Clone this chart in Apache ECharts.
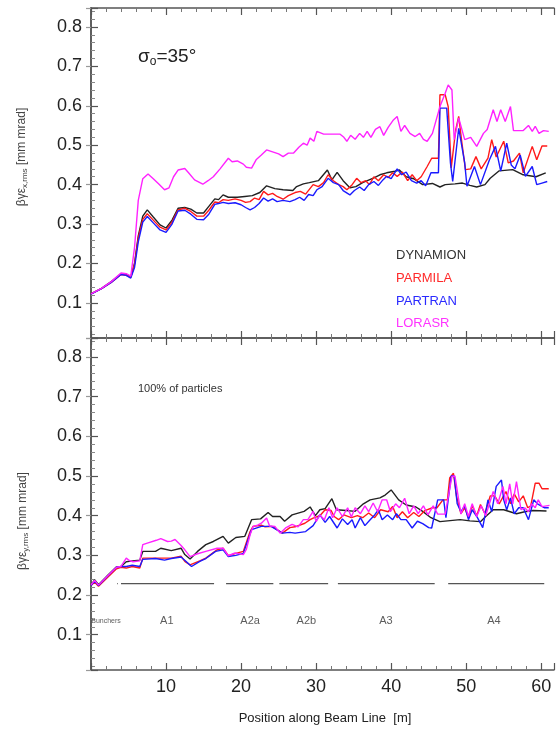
<!DOCTYPE html>
<html><head><meta charset="utf-8">
<script src="https://cdn.jsdelivr.net/npm/echarts@6/dist/echarts.min.js"></script>
<style>html,body{margin:0;padding:0;background:#fff}#c{width:556px;height:731px}</style>
</head><body><div id="c"></div>
<script>
// ---- data (x in m, value in mm mrad) ----
const xTicks = [10,20,30,40,50,60];
const yTicks = [0.1,0.2,0.3,0.4,0.5,0.6,0.7,0.8];

const dynX = [[0,0.123],[1.4,0.137],[2.7,0.154],[4.0,0.174],[4.7,0.172],[5.3,0.166],[5.8,0.2],[6.3,0.27],[6.9,0.32],[7.5,0.336],[8.3,0.318],[9.2,0.298],[10,0.29],[10.8,0.31],[11.6,0.34],[12.5,0.342],[13.3,0.338],[14.1,0.328],[15,0.328],[15.7,0.345],[16.5,0.364],[17,0.362],[17.6,0.374],[18.3,0.368],[19.5,0.368],[20.5,0.37],[21.5,0.372],[22.5,0.38],[23.4,0.397],[24.5,0.39],[25.6,0.387],[26.9,0.385],[27.4,0.395],[28.3,0.402],[29.1,0.405],[30.3,0.41],[31.5,0.437],[32.1,0.412],[32.8,0.431],[33.6,0.41],[34.5,0.392],[35.3,0.395],[36.2,0.405],[37.7,0.417],[38.5,0.425],[39.4,0.43],[40.5,0.434],[41.1,0.437],[42,0.42],[43,0.415],[44.2,0.4],[45.5,0.403],[46.5,0.394],[47.2,0.4],[48.5,0.402],[49.5,0.404],[50.5,0.398],[51.4,0.394],[52.5,0.4],[53.2,0.416],[54.4,0.435],[56.2,0.438],[57.6,0.425],[59.3,0.42],[60.6,0.43]];
const parX = [[0,0.123],[1.4,0.136],[2.7,0.152],[4.0,0.172],[4.7,0.17],[5.3,0.165],[5.8,0.198],[6.3,0.265],[6.9,0.312],[7.5,0.326],[8.3,0.31],[9.2,0.292],[10,0.285],[10.8,0.305],[11.6,0.336],[12.5,0.34],[13.3,0.332],[14.1,0.32],[15,0.32],[15.7,0.335],[16.5,0.356],[17,0.354],[17.6,0.362],[18.3,0.36],[19.2,0.364],[20,0.36],[20.6,0.355],[21.2,0.357],[21.8,0.366],[22.4,0.362],[23,0.383],[23.6,0.374],[24.2,0.378],[24.8,0.37],[25.6,0.363],[26.3,0.372],[27.2,0.38],[27.9,0.383],[28.6,0.376],[29.6,0.4],[30.3,0.395],[31,0.405],[31.6,0.425],[32.3,0.41],[33,0.4],[33.6,0.395],[34.1,0.387],[34.8,0.4],[35.4,0.416],[36,0.405],[36.6,0.41],[37.1,0.4],[37.7,0.42],[38.3,0.41],[39,0.425],[39.6,0.418],[40.2,0.43],[40.8,0.421],[41.5,0.432],[42.2,0.41],[42.8,0.425],[43.4,0.41],[44,0.42],[44.8,0.446],[45.4,0.467],[46.3,0.467],[46.5,0.628],[47.2,0.628],[47.6,0.598],[48,0.442],[48.6,0.539],[49,0.573],[49.4,0.51],[49.9,0.438],[50.6,0.44],[51.3,0.471],[52,0.44],[52.9,0.467],[53.4,0.514],[54,0.47],[55,0.51],[55.6,0.455],[56.3,0.46],[57.1,0.48],[57.6,0.43],[58.8,0.497],[59.4,0.463],[60.1,0.498],[60.8,0.498]];
const ptrX = [[0,0.122],[1.4,0.136],[2.7,0.152],[4.0,0.172],[4.7,0.17],[5.3,0.163],[5.8,0.19],[6.3,0.255],[6.9,0.305],[7.5,0.319],[8.3,0.303],[9.2,0.285],[10,0.279],[10.8,0.3],[11.6,0.333],[12.5,0.335],[13.3,0.325],[14.1,0.312],[15,0.311],[15.7,0.325],[16.5,0.35],[17,0.352],[17.6,0.355],[18.3,0.352],[19.2,0.354],[20,0.349],[20.6,0.342],[21.2,0.336],[21.8,0.342],[22.4,0.352],[23,0.366],[23.6,0.358],[24.2,0.364],[24.8,0.357],[25.6,0.36],[26.5,0.357],[27.2,0.362],[27.8,0.368],[28.4,0.36],[29,0.375],[29.6,0.372],[30.1,0.387],[30.8,0.395],[31.6,0.416],[32.3,0.405],[33,0.4],[33.6,0.385],[34.5,0.374],[35.1,0.385],[35.8,0.394],[36.4,0.385],[37,0.4],[37.7,0.408],[38.3,0.398],[38.9,0.412],[39.4,0.421],[40,0.415],[40.8,0.44],[41.4,0.425],[42,0.432],[42.7,0.41],[43.4,0.404],[44,0.41],[44.6,0.397],[45.3,0.43],[46.3,0.43],[46.5,0.594],[47.4,0.594],[47.9,0.455],[48.2,0.408],[49,0.543],[49.8,0.455],[50.1,0.396],[51.1,0.446],[51.9,0.4],[53.1,0.463],[53.9,0.497],[54.6,0.434],[55.4,0.505],[56,0.45],[56.5,0.44],[57.2,0.475],[57.9,0.421],[58.8,0.446],[59.4,0.4],[60.1,0.404],[60.8,0.408]];
const lorX = [[0,0.123],[1.4,0.137],[2.7,0.154],[4.0,0.176],[4.7,0.174],[5.3,0.168],[5.8,0.24],[6.3,0.36],[6.9,0.415],[7.6,0.427],[8.3,0.415],[9,0.402],[9.8,0.387],[10.4,0.392],[11,0.42],[11.6,0.437],[12.5,0.441],[13,0.43],[13.8,0.412],[14.9,0.401],[15.6,0.41],[16.3,0.42],[17.2,0.44],[18.3,0.467],[18.8,0.458],[19.5,0.46],[20.3,0.452],[20.7,0.444],[21.4,0.442],[22,0.463],[22.7,0.475],[23.4,0.488],[24.2,0.483],[25,0.478],[25.6,0.471],[26.3,0.48],[27,0.48],[27.7,0.495],[28.3,0.505],[28.8,0.5],[29.2,0.518],[29.7,0.51],[30.1,0.535],[31,0.528],[33.2,0.528],[33.7,0.52],[34.1,0.51],[34.6,0.525],[35.2,0.515],[35.8,0.53],[36.3,0.52],[36.8,0.535],[37.3,0.52],[37.9,0.54],[38.5,0.547],[39,0.525],[39.6,0.545],[40.3,0.564],[40.8,0.573],[41.3,0.535],[41.8,0.55],[42.5,0.53],[43.2,0.522],[43.8,0.53],[44.3,0.515],[44.8,0.51],[45.5,0.53],[46.5,0.598],[47.2,0.632],[47.6,0.653],[48.1,0.64],[48.4,0.514],[49,0.569],[49.8,0.514],[50.6,0.52],[51.4,0.497],[52.3,0.53],[52.8,0.54],[53.6,0.59],[54.1,0.56],[54.6,0.59],[55.2,0.56],[55.9,0.598],[56.3,0.537],[57.6,0.537],[58.3,0.55],[58.8,0.535],[59.2,0.548],[59.7,0.53],[60.3,0.537],[61,0.535]];

const dynY = [[0,0.226],[0.5,0.238],[1.0,0.226],[2.3,0.251],[3.4,0.271],[4.0,0.272],[4.7,0.284],[5.5,0.286],[6.5,0.288],[6.9,0.31],[8.6,0.31],[9.3,0.318],[10.7,0.312],[12,0.318],[12.5,0.302],[13.2,0.291],[14.2,0.31],[15.3,0.327],[16.3,0.335],[17.6,0.348],[18.3,0.331],[19.3,0.345],[20.5,0.348],[21.4,0.39],[22.6,0.392],[23.6,0.408],[24.2,0.398],[25.2,0.398],[25.8,0.386],[26.8,0.402],[28.4,0.411],[29.2,0.422],[29.9,0.4],[30.5,0.415],[31.2,0.418],[32.1,0.443],[32.7,0.415],[34,0.413],[35.2,0.411],[36.3,0.43],[37.2,0.44],[38.5,0.445],[39.2,0.452],[40,0.465],[41,0.44],[42,0.427],[43.3,0.422],[44.2,0.411],[45.3,0.395],[46.5,0.385],[49.2,0.39],[50.5,0.387],[51.9,0.385],[52.6,0.398],[53.6,0.415],[55,0.415],[56.7,0.405],[57.8,0.41],[58.9,0.413],[60.7,0.412]];
const parY = [[0,0.224],[0.5,0.232],[1.0,0.222],[2.3,0.246],[3.4,0.266],[4.0,0.27],[4.7,0.268],[5.5,0.272],[6.5,0.268],[6.9,0.293],[8.6,0.293],[10.7,0.293],[12,0.298],[12.5,0.285],[13.2,0.276],[14.5,0.286],[15.3,0.293],[16.8,0.314],[17.6,0.318],[18.3,0.299],[19.3,0.305],[20.3,0.31],[21.2,0.36],[21.6,0.373],[22.7,0.376],[23.2,0.372],[24.1,0.373],[24.8,0.365],[25.5,0.356],[26.5,0.37],[27.2,0.372],[28.5,0.381],[29.2,0.39],[29.6,0.394],[30.5,0.4],[31.2,0.415],[32,0.413],[32.4,0.398],[33,0.39],[33.7,0.402],[34.7,0.395],[35.5,0.4],[36.2,0.395],[37,0.407],[37.8,0.395],[38.6,0.415],[39.6,0.41],[40.2,0.423],[40.8,0.395],[41.5,0.41],[42.2,0.395],[43,0.408],[43.7,0.398],[44.5,0.413],[45.5,0.42],[46.1,0.42],[46.9,0.44],[47.5,0.44],[47.8,0.495],[48.3,0.507],[48.7,0.45],[49.3,0.405],[49.8,0.42],[50.3,0.395],[50.8,0.425],[51.4,0.4],[51.9,0.428],[52.5,0.405],[53.2,0.45],[53.8,0.45],[54.4,0.43],[55.3,0.461],[55.9,0.43],[56.4,0.455],[57,0.435],[57.6,0.45],[58.2,0.42],[58.6,0.425],[59.2,0.482],[59.7,0.482],[60.1,0.468],[61,0.468]];
const ptrY = [[0,0.224],[0.5,0.235],[1.0,0.224],[2.3,0.249],[3.4,0.27],[4.0,0.272],[4.7,0.272],[5.5,0.275],[6.5,0.272],[6.9,0.29],[8.6,0.292],[9.8,0.288],[10.7,0.292],[12,0.296],[12.6,0.286],[13.4,0.272],[14.5,0.285],[15.3,0.292],[16.6,0.31],[17.6,0.314],[18.3,0.297],[19.3,0.3],[20.3,0.305],[21.4,0.365],[22.7,0.373],[24,0.373],[25.5,0.356],[26.5,0.358],[27.2,0.356],[28.6,0.36],[29.6,0.375],[30.5,0.402],[31.2,0.383],[31.8,0.398],[32.8,0.369],[33.5,0.392],[34.2,0.378],[34.8,0.39],[35.2,0.369],[35.9,0.395],[36.5,0.375],[37.2,0.39],[37.8,0.402],[38.3,0.415],[38.8,0.39],[39.5,0.402],[40.2,0.39],[40.7,0.405],[41.3,0.39],[42,0.39],[42.8,0.369],[43.5,0.386],[44.2,0.38],[45,0.37],[45.4,0.369],[46.2,0.44],[47,0.44],[47.3,0.395],[48,0.5],[48.4,0.5],[48.8,0.43],[49.3,0.41],[49.8,0.425],[50.3,0.39],[50.8,0.415],[51.5,0.395],[52.2,0.37],[52.9,0.44],[53.4,0.41],[54,0.474],[54.7,0.49],[55,0.44],[55.4,0.415],[55.9,0.445],[56.4,0.405],[57,0.42],[57.6,0.42],[58.3,0.39],[59,0.44],[59.5,0.43],[60.4,0.42],[61,0.42]];
const lorY = [[0,0.226],[0.5,0.237],[1.0,0.225],[2.3,0.25],[3.4,0.27],[4.0,0.272],[4.7,0.293],[5.1,0.287],[5.6,0.284],[6.5,0.286],[6.9,0.327],[7.5,0.331],[8.7,0.338],[9.3,0.342],[10.2,0.335],[10.7,0.336],[11.2,0.34],[12,0.325],[12.5,0.314],[13.2,0.297],[14.2,0.304],[15.3,0.31],[16.8,0.318],[17.6,0.318],[18.3,0.299],[19.2,0.306],[20.3,0.302],[20.7,0.315],[21.2,0.352],[21.6,0.373],[22.2,0.376],[22.7,0.381],[23.4,0.394],[23.8,0.374],[24.5,0.373],[25.2,0.356],[26,0.37],[26.8,0.378],[27.6,0.372],[28.3,0.39],[28.9,0.39],[29.6,0.411],[30,0.385],[30.5,0.402],[31.1,0.39],[31.7,0.42],[32.2,0.395],[32.8,0.42],[33.5,0.398],[34.2,0.42],[34.7,0.397],[35.2,0.42],[35.9,0.405],[36.5,0.425],[37,0.41],[37.6,0.432],[38.2,0.41],[38.8,0.44],[39.4,0.44],[39.9,0.41],[40.6,0.43],[41.1,0.42],[41.8,0.444],[42.4,0.405],[43,0.425],[43.6,0.405],[44.3,0.425],[44.9,0.402],[45.6,0.425],[46.2,0.404],[47.2,0.404],[48.1,0.499],[48.5,0.5],[49.3,0.404],[49.8,0.43],[50.3,0.398],[50.8,0.43],[51.4,0.398],[52,0.425],[52.6,0.4],[53.6,0.461],[54.2,0.43],[54.9,0.474],[55.3,0.43],[55.8,0.48],[56.2,0.43],[56.7,0.486],[57.3,0.415],[57.8,0.42],[58.3,0.41],[58.7,0.43],[59.2,0.42],[59.6,0.44],[60.1,0.423],[61.1,0.426]];

const sectionNames = ['Bunchers','A1','A2a','A2b','A3','A4'];
const sectionX = [2.0,10.1,21.2,28.7,39.3,53.7];
const sectionLabelY = 0.135;
const sectionBarY = 0.229;
const sectionStart = [3.5,4.0,18.0,25.1,32.9,47.6];
const sectionEnd   = [3.6,16.4,24.3,31.6,45.8,60.4];

const names = ['DYNAMION','PARMILA','PARTRAN','LORASR'];
const colors = ['#222222','#ff1a1a','#1a1aff','#ff22ff'];

// ---- chart ----
const chart = echarts.init(document.getElementById('c'), null, {renderer:'canvas'});
const FONT = 'Liberation Sans, Arial, sans-serif';
const XMIN = 0, XMAX = 61.7, YMIN = 0.011, YMAX = 0.848;
const axisLine = {show:true, lineStyle:{color:'#555', width:1.5}};

function xAx(grid, pos, labels){
  return {type:'value', gridIndex:grid, position:pos, min:XMIN, max:XMAX, interval:10,
    axisLine, splitLine:{show:false},
    axisTick:{show:true, inside:true, length:7, lineStyle:{color:'#555', width:1.2}},
    minorTick:{show:true, splitNumber:5, length:4, lineStyle:{color:'#777', width:1}},
    axisLabel:{show:labels, showMinLabel:false, showMaxLabel:false, fontSize:18, color:'#222', fontFamily:FONT, margin:8,
      formatter:v=> xTicks.includes(Math.round(v)) && Math.abs(v-Math.round(v))<1e-6 ? String(Math.round(v)) : ''}};
}
function yAx(grid, pos, labels){
  return {type:'value', gridIndex:grid, position:pos, min:YMIN, max:YMAX, splitNumber:8,
    axisLine, splitLine:{show:false},
    axisTick:{show:true, inside:true, length:labels?7:5, lineStyle:{color: labels?'#555':'#999', width:1.2}},
    minorTick:{show:labels, splitNumber:5, length:4, lineStyle:{color:'#888', width:1}},
    axisLabel:{show:labels, showMinLabel:false, showMaxLabel:false, fontSize:18, color:'#222', fontFamily:FONT, margin:9,
      formatter:v=>{ const r=Math.round(v*10)/10; return (Math.abs(v-r)<1e-6 && yTicks.includes(r)) ? r.toFixed(1) : ''; }}};
}

const lineSeries = (name, data, color, g) => ({
  name, type:'line', data, xAxisIndex: g*2, yAxisIndex: g*2, showSymbol:false, symbol:'none',
  lineStyle:{color, width:1.4}, itemStyle:{color}, silent:true, animation:false, z:3
});

const barData = [];
sectionStart.forEach((s,i)=>{ barData.push([s,sectionBarY]); barData.push([sectionEnd[i],sectionBarY]); barData.push([sectionEnd[i]+0.3,null]); });

const option = {
  animation:false,
  backgroundColor:'#fff',
  grid:[
    {left:91, top:8, width:463, height:330, show:false},
    {left:91, top:338, width:463, height:332, show:false}
  ],
  xAxis:[xAx(0,'bottom',false), xAx(0,'top',false), xAx(1,'bottom',true), xAx(1,'top',false)],
  yAxis:[yAx(0,'left',true), yAx(0,'right',false), yAx(1,'left',true), yAx(1,'right',false)],
  series:[
    lineSeries(names[0], dynX, colors[0], 0),
    lineSeries(names[1], parX, colors[1], 0),
    lineSeries(names[2], ptrX, colors[2], 0),
    lineSeries(names[3], lorX, colors[3], 0),
    lineSeries(names[0], dynY, colors[0], 1),
    lineSeries(names[1], parY, colors[1], 1),
    lineSeries(names[2], ptrY, colors[2], 1),
    lineSeries(names[3], lorY, colors[3], 1),
    {type:'line', xAxisIndex:2, yAxisIndex:2, data:barData, showSymbol:false, symbol:'none', connectNulls:false,
      lineStyle:{color:'#555', width:1.3}, silent:true, z:2},
    {type:'scatter', xAxisIndex:2, yAxisIndex:2, symbolSize:1, itemStyle:{color:'rgba(0,0,0,0)'}, silent:true,
      data: sectionNames.map((n,i)=>({name:n, value:[sectionX[i], sectionLabelY],
        label:{fontSize: i===0?7:11}})),
      label:{show:true, position:'inside', formatter:'{b}', color:'#333', fontFamily:FONT}}
  ],
  graphic:[
    {type:'text', left:138, top:47, style:{text:'σ{s|o}=35°', font:'19px '+FONT, fill:'#222',
      rich:{s:{fontSize:12, fontFamily:FONT, fill:'#222', padding:[10,0,0,0]}}}},
    {type:'text', left:138, top:383, style:{text:'100% of particles', font:'11px '+FONT, fill:'#333'}},
    {type:'text', left:396, top:249, style:{text:'DYNAMION', font:'13px '+FONT, fill:'#333'}},
    {type:'text', left:396, top:272, style:{text:'PARMILA', font:'13px '+FONT, fill:'#ff2a2a'}},
    {type:'text', left:396, top:295, style:{text:'PARTRAN', font:'13px '+FONT, fill:'#2a2aff'}},
    {type:'text', left:396, top:317, style:{text:'LORASR', font:'13px '+FONT, fill:'#ff33ff'}},
    {type:'text', x:22, y:157, rotation:Math.PI/2,
      style:{text:'βγε{s|x,rms} [mm mrad]', font:'12px '+FONT, fill:'#444', align:'center', verticalAlign:'middle',
      rich:{s:{fontSize:8, fontFamily:FONT, fill:'#444', padding:[6,0,0,0]}}}},
    {type:'text', x:23, y:521, rotation:Math.PI/2,
      style:{text:'βγε{s|y,rms} [mm mrad]', font:'12px '+FONT, fill:'#444', align:'center', verticalAlign:'middle',
      rich:{s:{fontSize:8, fontFamily:FONT, fill:'#444', padding:[6,0,0,0]}}}},
    {type:'text', x:325, y:718, style:{text:'Position along Beam Line  [m]', font:'13px '+FONT, fill:'#222', align:'center', verticalAlign:'middle'}}
  ]
};
chart.setOption(option);
</script>
</body></html>
